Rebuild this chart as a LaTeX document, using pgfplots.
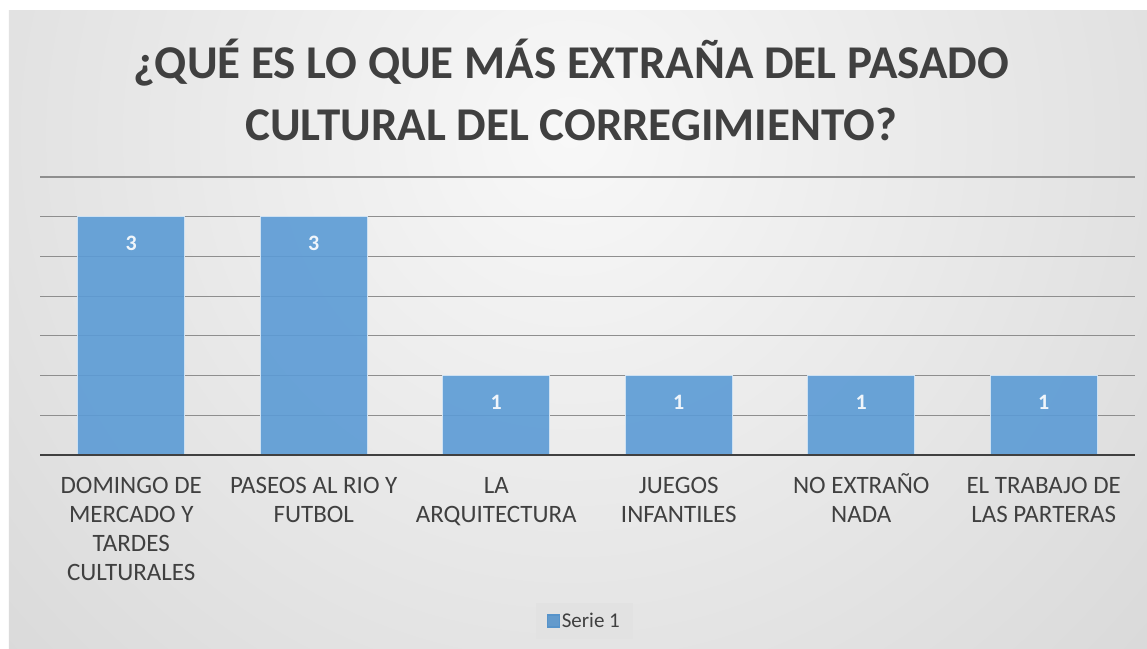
\documentclass[border=0pt]{standalone}
\usepackage{pgfplots}
\pgfplotsset{compat=1.18}
\usepackage{fontspec}
\setmainfont{Carlito}
\definecolor{barblue}{HTML}{5B9BD5}
\definecolor{txtgray}{HTML}{404040}
\definecolor{gridgray}{HTML}{8E8E8E}
\definecolor{bgin}{HTML}{F8F8F8}
\definecolor{bgout}{HTML}{BBBBBB}
\definecolor{legfill}{HTML}{E2E2E2}
\newcommand{\fl}{\rule{0pt}{24bp}}
\begin{document}
\begin{tikzpicture}
% full image: pixel (x,y) -> ((x-40)bp,(455-y)bp)
\path[use as bounding box, fill=white] (-40bp,-194bp) rectangle (1107bp,455bp);
\begin{scope}
\clip (-31bp,-194bp) rectangle (1107bp,444bp);
\shade[inner color=bgin, outer color=bgout] (530bp,320bp) circle (1560bp);
\end{scope}
\node[align=center, text=txtgray, font=\fontsize{47bp}{62bp}\selectfont\bfseries] at (531bp,365bp)
  {¿QUÉ ES LO QUE MÁS EXTRAÑA DEL PASADO\\CULTURAL DEL CORREGIMIENTO?};
\begin{axis}[
  scale only axis,
  width=1095bp, height=278bp,
  xmin=-0.5, xmax=5.5, ymin=0, ymax=3.5,
  ybar, bar width=107bp,
  axis line style={draw=none},
  xtick={0,1,2,3,4,5},
  xticklabels={{\fl DOMINGO DE\\MERCADO Y\\TARDES\\CULTURALES},{\fl PASEOS AL RIO Y\\FUTBOL},{\fl LA\\ARQUITECTURA},{\fl JUEGOS\\INFANTILES},{\fl NO EXTRAÑO\\NADA},{\fl EL TRABAJO DE\\LAS PARTERAS}},
  xticklabel style={align=center, text=txtgray, font=\fontsize{25bp}{29bp}\selectfont, anchor=north, yshift=-10.7bp},
  major tick length=0pt,
  ytick={0.5,1,1.5,2,2.5,3,3.5},
  yticklabels={},
  ymajorgrids,
  grid style={gridgray, line width=1.2bp},
  /pgf/number format/assume math mode=true,
  nodes near coords,
  nodes near coords style={anchor=center, yshift=-27bp, text=white, font=\fontsize{22bp}{26bp}\selectfont\bfseries},
  legend style={at={(0.497,-0.597)}, anchor=center, draw=none, fill=legfill, font=\fontsize{21bp}{24bp}\selectfont, text=txtgray, inner xsep=11bp, inner ysep=8bp},
  legend image code/.code={\fill[barblue!95!black, fill opacity=0.9] (0bp,-6bp) rectangle (12bp,6bp);},
]
\addplot[fill=barblue, fill opacity=0.9, draw=white!70!barblue, line width=1.2bp] coordinates {(0,3) (1,3) (2,1) (3,1) (4,1) (5,1)};
\addlegendentry{Serie 1}
\draw[line width=3bp, color=txtgray] (axis cs:-0.5,0) -- (axis cs:5.5,0);
\end{axis}
\end{tikzpicture}
\end{document}
